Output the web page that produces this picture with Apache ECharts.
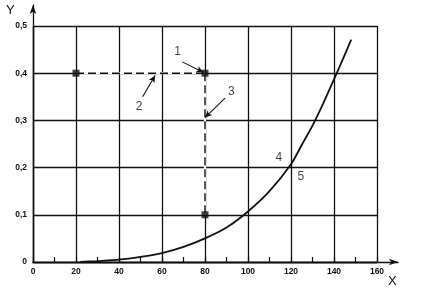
<!DOCTYPE html>
<html><head><meta charset="utf-8">
<script src="https://cdn.jsdelivr.net/npm/echarts@6/dist/echarts.min.js"></script>
<style>html,body{margin:0;padding:0;background:#fff}#c{width:422px;height:294px}</style>
</head><body><div id="c"></div>
<script>
// Curve (X, Y)
const curveX = [22, 30, 40, 50, 60, 70, 80, 90, 100, 110, 120, 125, 130, 135, 140, 145, 148];
const curveY = [0, 0.002, 0.005, 0.011, 0.019, 0.032, 0.05, 0.073, 0.107, 0.150, 0.207, 0.248, 0.289, 0.336, 0.387, 0.439, 0.471];
// Construction points
const hDashX = [20, 80];
const hDashY = [0.4, 0.4];
const vDashX = [80, 80];
const vDashY = [0.4, 0.1];
const pointX = [20, 80, 80];
const pointY = [0.4, 0.4, 0.1];
// Annotation numbers and their leader lines (data coordinates)
const labelText = ['1', '2', '3', '4', '5'];
const labelX = [67.3, 49.4, 92.2, 114.4, 124.6];
const labelY = [0.446, 0.33, 0.36, 0.222, 0.18];
const leaders = [
  [[69.4, 0.424], [79.2, 0.402]],
  [[51.0, 0.350], [56.8, 0.395]],
  [[89.3, 0.347], [80.0, 0.306]]
];
const xTicks = [0, 20, 40, 60, 80, 100, 120, 140, 160];
const yTicks = [0, 0.1, 0.2, 0.3, 0.4, 0.5];

const zip = (a, b) => a.map((v, i) => [v, b[i]]);
const chart = echarts.init(document.getElementById('c'));
const lblFont = { fontFamily: 'Liberation Sans', fontSize: 8.5, fontWeight: 'bold', color: '#111' };
chart.setOption({
  animation: false,
  backgroundColor: '#fff',
  grid: [
    { left: 33, right: 45, top: 26, bottom: 32 },
    { left: 33, right: 24, top: 5, bottom: 32 }
  ],
  xAxis: [
    { type: 'value', gridIndex: 0, min: xTicks[0], max: xTicks[xTicks.length - 1], interval: 20,
      axisLine: { show: true, lineStyle: { color: '#111', width: 1.3 } },
      axisTick: { show: true, inside: true, length: 5, lineStyle: { color: '#111', width: 1.2 } },
      minorTick: { show: true, splitNumber: 2, length: 5, lineStyle: { color: '#111', width: 1.2 } },
      splitLine: { show: true, lineStyle: { color: '#111', width: 1.3 } },
      axisLabel: Object.assign({ margin: 5 }, lblFont) },
    { type: 'value', gridIndex: 1, min: 0, max: 1, show: true,
      axisLine: { show: true, symbol: ['none', 'arrow'], symbolSize: [5, 9], lineStyle: { color: '#111', width: 1.3 } },
      axisTick: { show: false }, axisLabel: { show: false }, splitLine: { show: false } }
  ],
  yAxis: [
    { type: 'value', gridIndex: 0, min: yTicks[0], max: yTicks[yTicks.length - 1], interval: 0.1,
      axisLine: { show: true, lineStyle: { color: '#111', width: 1.3 } },
      axisTick: { show: false },
      splitLine: { show: true, lineStyle: { color: '#111', width: 1.3 } },
      axisLabel: Object.assign({ margin: 6, formatter: v => String(+v.toFixed(1)).replace('.', ',') }, lblFont) },
    { type: 'value', gridIndex: 1, min: 0, max: 1, show: true,
      axisLine: { show: true, symbol: ['none', 'arrow'], symbolSize: [5, 9], lineStyle: { color: '#111', width: 1.3 } },
      axisTick: { show: false }, axisLabel: { show: false }, splitLine: { show: false } }
  ],
  graphic: [
    { type: 'text', left: 6, top: 4, style: { text: 'Y', fontFamily: 'Liberation Sans', fontSize: 13, fill: '#111' } },
    { type: 'text', left: 388, top: 275, style: { text: 'X', fontFamily: 'Liberation Sans', fontSize: 13, fill: '#111' } }
  ],
  series: [
    { type: 'line', xAxisIndex: 0, yAxisIndex: 0, data: zip(curveX, curveY), smooth: 0.25, showSymbol: false,
      lineStyle: { color: '#111', width: 1.8 }, z: 5 },
    { type: 'line', data: zip(vDashX, vDashY), showSymbol: false,
      lineStyle: { color: '#fff', width: 2.2 }, z: 3 },
    { type: 'line', data: zip(vDashX, vDashY), showSymbol: false,
      lineStyle: { color: '#111', width: 1.4, type: [8, 4] }, z: 4 },
    { type: 'line', data: zip(hDashX, hDashY), showSymbol: false,
      lineStyle: { color: '#fff', width: 2.2 }, z: 3 },
    { type: 'line', data: zip(hDashX, hDashY), showSymbol: false,
      lineStyle: { color: '#111', width: 1.4, type: [8, 4] }, z: 4 },
    { type: 'scatter', data: zip(pointX, pointY), symbol: 'rect', symbolSize: 7,
      itemStyle: { color: '#111' }, z: 6,
      markLine: { silent: true, symbol: ['none', 'arrow'], symbolSize: [5, 7], label: { show: false },
        lineStyle: { color: '#111', width: 1.1, type: 'solid' },
        data: leaders.map(l => [{ coord: l[0] }, { coord: l[1] }]) } },
    { type: 'scatter', data: labelX.map((x, i) => ({ value: [x, labelY[i]], name: labelText[i] })),
      symbolSize: 0, z: 7,
      label: { show: true, position: 'inside', formatter: p => p.name,
        fontFamily: 'Liberation Sans', fontSize: 12, color: '#111' } }
  ]
});
</script></body></html>
